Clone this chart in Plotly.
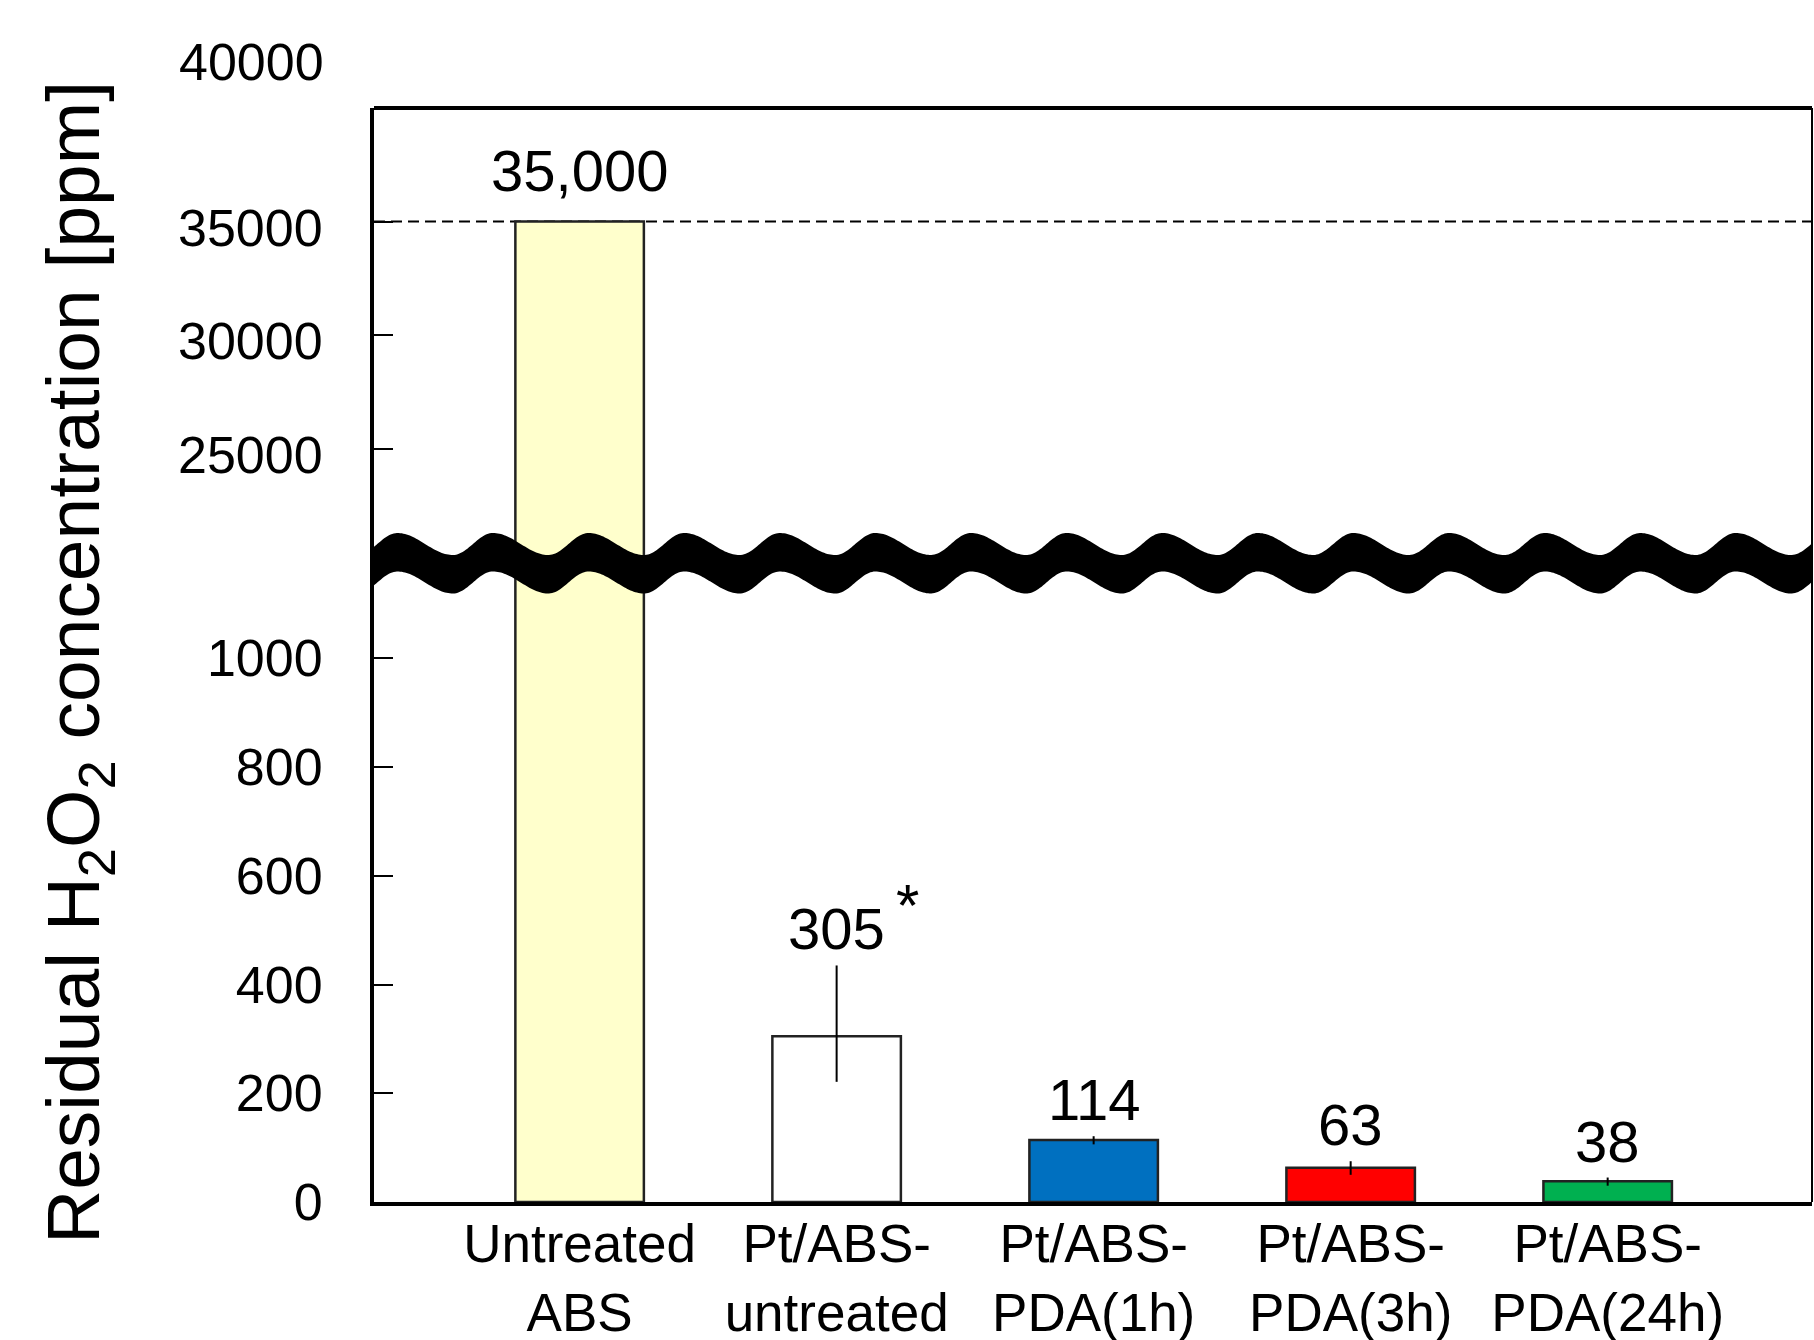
import numpy as np
import plotly.graph_objects as go

# ---------------- data ----------------
categories = ["Untreated<br>ABS", "Pt/ABS-<br>untreated", "Pt/ABS-<br>PDA(1h)",
              "Pt/ABS-<br>PDA(3h)", "Pt/ABS-<br>PDA(24h)"]
values = [35000, 305, 114, 63, 38]
err_plus = [0, 130, 7, 12, 7]
err_minus = [0, 84, 8, 13, 8]
value_labels = ["35,000", "305", "114", "63", "38"]
marks = ["", "*", "", "", ""]
colors = ["#FFFFCC", "#FFFFFF", "#0070C0", "#FF0000", "#00B050"]
lower_ticks = [0, 200, 400, 600, 800, 1000]
upper_ticks = [25000, 30000, 35000]
top_tick = 40000
y_title = "Residual H<sub>2</sub>O<sub>2</sub> concentration [ppm]"

# ---------------- layout constants ----------------
W, H = 1814, 1340
ML, MR, MT, MB = 374, 2, 108, 138
PW, PH = W - ML - MR, H - MT - MB
SPLIT_PX = 562                      # pixel row of the axis break
split = (H - MB - SPLIT_PX) / PH
LOWER_RANGE = [0, 1177]
UPPER_RANGE = [20000, 40000]
FONT = "Liberation Sans, Arial, sans-serif"

fig = go.Figure()

# lower panel (all bars, clipped at the break)
fig.add_trace(go.Bar(
    x=categories, y=values, width=0.5,
    marker=dict(color=colors, line=dict(color="#222222", width=2.5)),
    error_y=dict(type="data", symmetric=False, array=err_plus, arrayminus=err_minus,
                 color="black", thickness=2, width=0),
    xaxis="x", yaxis="y", showlegend=False, hoverinfo="skip"))
# upper panel (same data, only the tall bar reaches this range)
fig.add_trace(go.Bar(
    x=categories, y=values, width=0.5,
    marker=dict(color=colors, line=dict(color="#222222", width=2.5)),
    xaxis="x", yaxis="y2", showlegend=False, hoverinfo="skip"))

axis_common = dict(showline=True, linewidth=4, linecolor="black", showgrid=False,
                   zeroline=False, ticks="inside", ticklen=19, tickwidth=2,
                   tickcolor="black", tickfont=dict(size=52, color="black", family=FONT),
                   ticklabelstandoff=37, automargin=False)

fig.update_layout(
    width=W, height=H,
    margin=dict(l=ML, r=MR, t=MT, b=MB, pad=0, autoexpand=False),
    paper_bgcolor="white", plot_bgcolor="white",
    font=dict(family=FONT, color="black"),
    barmode="overlay",
    xaxis=dict(range=[-0.80, 4.795], showline=True, linewidth=4, linecolor="black",
               ticks="", showgrid=False, zeroline=False, anchor="y", automargin=False,
               tickfont=dict(size=53, color="black", family=FONT),
               ticklabelstandoff=-8),
    yaxis=dict(domain=[0, split], range=LOWER_RANGE, tickvals=lower_ticks,
               ticktext=[str(t) for t in lower_ticks], anchor="x", **axis_common),
    yaxis2=dict(domain=[split, 1], range=UPPER_RANGE, tickvals=upper_ticks,
                ticktext=[str(t) for t in upper_ticks], anchor="x",
                ticklabelshift=6, **axis_common),
)

# ---------------- annotations ----------------
ann = []
for i, (c, v, e, lab, m) in enumerate(zip(categories, values, err_plus, value_labels, marks)):
    yref = "y2" if v > LOWER_RANGE[1] else "y"
    shift = 17 if yref == "y2" else 2
    ann.append(dict(x=c, y=v + e, xref="x", yref=yref, text=lab, showarrow=False,
                    yanchor="bottom", xanchor="center", yshift=shift,
                    font=dict(size=58, color="black", family=FONT)))
    if m:
        ann.append(dict(x=c, y=v + e, xref="x", yref=yref, text=m, showarrow=False,
                        yanchor="bottom", xanchor="center", yshift=shift + 22, xshift=71,
                        font=dict(size=60, color="black", family=FONT)))
# 40000 label (drawn above the frame, as in the original)
ann.append(dict(x=0, y=top_tick, xref="paper", yref="y2", text=f"{top_tick}",
                showarrow=False, xanchor="right", yanchor="middle", xshift=-48, yshift=46,
                font=dict(size=52, color="black", family=FONT)))
# y-axis title
ann.append(dict(x=(78 - ML) / PW, y=(H - MB - 663) / PH, xref="paper", yref="paper",
                text=y_title, textangle=-90, showarrow=False,
                xanchor="center", yanchor="middle",
                font=dict(size=75, color="black", family=FONT)))
fig.update_layout(annotations=ann)

# ---------------- shapes: frame, reference line, break wave ----------------
shapes = [
    dict(type="line", xref="paper", yref="paper", x0=0, x1=1, y0=1, y1=1,
         line=dict(color="black", width=4)),
    dict(type="line", xref="paper", yref="paper", x0=1, x1=1, y0=0, y1=1,
         line=dict(color="black", width=2)),
    dict(type="line", xref="paper", yref="y2", x0=0, x1=1, y0=values[0], y1=values[0],
         line=dict(color="black", width=2, dash="11px,6px"), layer="below"),
]

# wavy break band
P, PEAK0, FALL = 95.6, 397.4, 0.58
TOP, AMP, THICK = 533.0, 22.0, 38.5
xs = np.linspace(ML - 1, W - MR - 1, 900)
u = ((xs - PEAK0) / P) % 1.0
f = np.where(u < FALL, (1 - np.cos(np.pi * u / FALL)) / 2,
             (1 + np.cos(np.pi * (u - FALL) / (1 - FALL))) / 2)
y_top = TOP + AMP * f
y_bot = y_top + THICK
xp = (xs - ML) / PW
ypt = (H - MB - y_top) / PH
ypb = (H - MB - y_bot) / PH
pts = [f"{a:.5f},{b:.5f}" for a, b in zip(xp, ypt)] + \
      [f"{a:.5f},{b:.5f}" for a, b in zip(xp[::-1], ypb[::-1])]
path = "M " + " L ".join(pts) + " Z"
shapes.append(dict(type="path", xref="paper", yref="paper", path=path,
                   fillcolor="black", line=dict(width=0), layer="above"))
fig.update_layout(shapes=shapes)

fig.write_html("out.html", config={"displayModeBar": False},
               post_script="document.body.style.margin='0px';"
                           "document.body.style.overflow='hidden';")
